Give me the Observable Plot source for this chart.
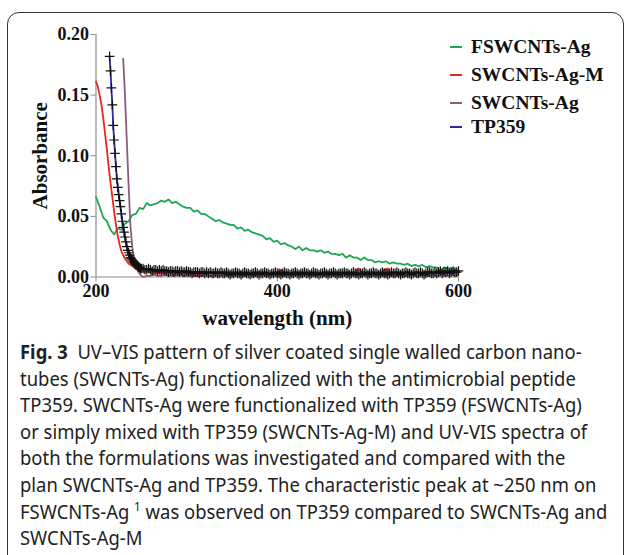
<!DOCTYPE html>
<html>
<head>
<meta charset="utf-8">
<script src="https://cdn.jsdelivr.net/npm/d3@7"></script>
<script src="https://cdn.jsdelivr.net/npm/@observablehq/plot@0.6"></script>
<style>
  html, body { margin: 0; padding: 0; background: #fff; }
  #page { position: relative; width: 627px; height: 555px; overflow: hidden; background: #fff; }
  #box { position: absolute; left: 7px; top: 12px; width: 617px; height: 560px; border: 1.2px solid #333; border-radius: 12px; box-sizing: border-box; }
  #chart { position: absolute; left: 0; top: 0; }
  #chart g[aria-label="x-axis label"] text, #chart g[aria-label="y-axis label"] text { font-size: 21px; }
  #legend { position: absolute; left: 450px; top: 0; font-family: "Liberation Serif", "Times New Roman", serif; font-weight: bold; font-size: 19.5px; color: #111; }
  .lg { position: absolute; left: 0; white-space: nowrap; height: 20px; }
  .lg .sw { position: absolute; left: 0; top: 9px; width: 12px; height: 2px; }
  .lg .tx { position: absolute; left: 21px; top: -2px; line-height: 24px; }
  #caption { position: absolute; left: 20px; top: 339px; font-family: "Noto Sans", sans-serif; font-size: 19px; line-height: 26.6px; color: #222; transform: scaleX(0.97); transform-origin: 0 0; white-space: nowrap; }
  #caption div { height: 26.6px; }
  #caption b { font-weight: bold; }
  #caption sup { font-size: 12px; line-height: 0; vertical-align: 0; position: relative; top: -8px; }
</style>
</head>
<body>
<div id="page">
  <div id="box"></div>
  <div id="chart"></div>
  <div id="legend"></div>
  <div id="caption">
    <div><b>Fig. 3</b>&nbsp; UV–VIS pattern of silver coated single walled carbon nano-</div>
    <div>tubes (SWCNTs-Ag) functionalized with the antimicrobial peptide</div>
    <div>TP359. SWCNTs-Ag were functionalized with TP359 (FSWCNTs-Ag)</div>
    <div>or simply mixed with TP359 (SWCNTs-Ag-M) and UV-VIS spectra of</div>
    <div>both the formulations was investigated and compared with the</div>
    <div>plan SWCNTs-Ag and TP359. The characteristic peak at ~250 nm on</div>
    <div>FSWCNTs-Ag <sup>1</sup> was observed on TP359 compared to SWCNTs-Ag and</div>
    <div>SWCNTs-Ag-M</div>
  </div>
</div>
<script>
// ---- axes ----
const xDomain = [200, 600];
const yDomain = [0, 0.2];
const xTicks = [200, 400, 600];
const yTicks = [0, 0.05, 0.10, 0.15, 0.20];

// ---- series names / colours ----
const seriesNames = ["FSWCNTs-Ag", "SWCNTs-Ag-M", "SWCNTs-Ag", "TP359"];
const seriesColors = ["#1fa650", "#e8271c", "#8c5c7c", "#2b2ba6"];

// FSWCNTs-Ag: 200–600 nm, every 4 nm
const fswStart = 200, fswStep = 4;
const fswValues = [
  .066,.058,.049,.046,.039,.035,.040,.039,.044,.046,
  .051,.052,.057,.056,.061,.059,.060,.061,.063,.062,
  .064,.061,.062,.060,.058,.057,.057,.054,.055,.052,
  .052,.050,.048,.046,.047,.045,.044,.043,.043,.040,
  .041,.038,.039,.037,.036,.035,.034,.031,.032,.029,
  .030,.027,.028,.026,.025,.023,.025,.022,.024,.022,
  .022,.021,.022,.020,.021,.019,.019,.018,.019,.016,
  .018,.016,.016,.014,.016,.014,.014,.012,.013,.012,
  .013,.011,.012,.011,.011,.010,.011,.009,.010,.009,
  .010,.008,.009,.008,.008,.005,.008,.007,.007,.006,
  .005
];

// SWCNTs-Ag-M: 200–250 nm every 2 nm, then 252–600 nm every 2 nm
const mixSteepStart = 200, mixStep = 2;
const mixSteep = [
  .161,.157,.150,.142,.131,.118,.105,.091,.078,.066,
  .054,.043,.034,.027,.021,.018,.015,.013,.011,.010,
  .009,.008,.007,.006,.006,.005
];
const mixBaseStart = 252;
const mixBase = [
  .005,.004,.005,.004,.004,.003,.004,.004,.003,.004,
  .003,.004,.003,.003,.004,.003,.003,.002,.003,.003,
  .003,.002,.003,.003,.002,.003,.003,.002,.002,.003,
  .003,.002,.003,.004,.003,.002,.003,.003,.004,.003,
  .002,.003,.004,.003,.003,.002,.003,.004,.003,.002,
  .003,.003,.002,.003,.004,.003,.002,.003,.003,.002,
  .003,.002,.003,.003,.002,.003,.003,.002,.003,.003,
  .002,.003,.003,.004,.003,.005,.006,.005,.003,.002,
  .003,.003,.002,.003,.004,.003,.002,.003,.003,.002,
  .003,.002,.003,.003,.002,.002,.003,.003,.002,.003,
  .003,.004,.003,.002,.003,.003,.002,.003,.004,.003,
  .002,.003,.003,.004,.003,.003,.002,.004,.006,.007,
  .005,.003,.002,.003,.003,.002,.003,.004,.003,.002,
  .003,.003,.004,.006,.006,.007,.004,.003,.002,.003,
  .003,.004,.003,.002,.003,.004,.005,.003,.002,.003,
  .003,.004,.003,.003,.002,.003,.004,.003,.005,.004,
  .003,.003,.004,.003,.002,.003,.004,.005,.003,.004,
  .003,.004,.003,.003,.004
];

// SWCNTs-Ag: 230–252 nm every 2 nm, then 256–600 nm every 4 nm
const agSteepStart = 230, agSteepStep = 2;
const agSteep = [.180,.150,.112,.075,.042,.025,.015,.009,.005,.003,.001,.000];
const agBaseStart = 256, agBaseStep = 4;
const agBase = [
  .001,.001,.002,.001,.001,.002,.001,.001,.001,.002,
  .001,.001,.002,.001,.001,.001,.002,.001,.001,.002,
  .001,.002,.001,.001,.001,.002,.001,.001,.002,.001,
  .001,.001,.002,.001,.001,.002,.001,.001,.001,.002,
  .001,.002,.001,.001,.002,.001,.001,.001,.002,.001,
  .001,.002,.001,.001,.001,.002,.001,.002,.001,.001,
  .002,.001,.001,.002,.001,.001,.001,.002,.001,.001,
  .002,.001,.001,.002,.001,.001,.002,.001,.001,.002,
  .001,.001,.002,.001,.002,.001,.002
];

// TP359: 215–250 nm every 1 nm, then 252–600 nm every 2 nm
const tpSteepStart = 215, tpSteepStep = 1;
const tpSteep = [
  .182,.170,.156,.142,.125,.113,.102,.091,.081,.074,
  .068,.063,.058,.052,.046,.041,.037,.033,.029,.025,
  .022,.020,.018,.016,.015,.014,.013,.012,.011,.010,
  .010,.009,.008,.008,.007,.007
];
const tpBaseStart = 252, tpBaseStep = 2;
const tpBase = [
  .007,.006,.006,.007,.006,.005,.006,.006,.005,.006,
  .005,.006,.005,.005,.004,.005,.005,.004,.005,.005,
  .004,.005,.004,.004,.005,.004,.004,.003,.004,.004,
  .004,.003,.004,.004,.003,.004,.003,.004,.003,.003,
  .004,.003,.003,.004,.003,.003,.004,.003,.002,.003,
  .003,.004,.003,.003,.002,.003,.004,.003,.003,.002,
  .003,.003,.004,.003,.002,.003,.003,.004,.003,.003,
  .002,.003,.003,.004,.003,.003,.002,.003,.004,.003,
  .003,.002,.003,.003,.004,.003,.002,.003,.003,.004,
  .003,.003,.002,.003,.004,.003,.003,.002,.003,.003,
  .004,.003,.002,.003,.003,.004,.003,.002,.003,.003,
  .003,.004,.003,.003,.002,.003,.004,.003,.003,.002,
  .003,.003,.004,.003,.002,.003,.003,.004,.003,.003,
  .002,.003,.004,.003,.003,.002,.003,.004,.003,.003,
  .004,.003,.002,.003,.003,.004,.003,.003,.002,.003,
  .004,.003,.003,.004,.003,.002,.003,.004,.004,.003,
  .003,.004,.003,.004,.005,.003,.004,.004,.005,.003,
  .004,.005,.004,.004,.005
];

function expand(start, step, values, series) {
  return values.map((v, i) => ({nm: start + i * step, abs: v, series}));
}

const fsw = expand(fswStart, fswStep, fswValues, seriesNames[0]);
const mix = expand(mixSteepStart, mixStep, mixSteep, seriesNames[1]).concat(expand(mixBaseStart, mixStep, mixBase, seriesNames[1]));
const ag = expand(agSteepStart, agSteepStep, agSteep, seriesNames[2]).concat(expand(agBaseStart, agBaseStep, agBase, seriesNames[2]));
const tp = expand(tpSteepStart, tpSteepStep, tpSteep, seriesNames[3]).concat(expand(tpBaseStart, tpBaseStep, tpBase, seriesNames[3]));

const axisColor = "#8c8c8c";
const serif = "'Liberation Serif', 'Times New Roman', serif";

const chart = Plot.plot({
  width: 627,
  height: 335,
  marginLeft: 95.5,
  marginRight: 169,
  marginTop: 34,
  marginBottom: 58.5,
  x: {domain: xDomain},
  y: {domain: yDomain},
  color: {domain: seriesNames, range: seriesColors},
  style: {fontFamily: serif, fontWeight: "bold", fontSize: "18px", background: "transparent", color: "#111", overflow: "visible"},
  marks: [
    Plot.ruleY([yDomain[0]], {stroke: axisColor, strokeWidth: 1.2}),
    Plot.ruleX([xDomain[0]], {stroke: axisColor, strokeWidth: 1.2}),
    Plot.axisX({ticks: xTicks, tickSize: 5, tickPadding: 2, stroke: axisColor, fill: "#111", fontSize: 18, fontWeight: "bold",
      label: "wavelength (nm)", labelArrow: "none", labelAnchor: "center", labelOffset: 48}),
    Plot.axisY({ticks: yTicks, tickSize: 5, tickPadding: 2, stroke: axisColor, fill: "#111", fontSize: 18, fontWeight: "bold",
      tickFormat: d3.format(".2f"), label: "Absorbance", labelArrow: "none", labelAnchor: "center", labelOffset: 64}),
    Plot.line(fsw, {x: "nm", y: "abs", stroke: "series", strokeWidth: 1.8}),
    Plot.line(mix, {x: "nm", y: "abs", stroke: "series", strokeWidth: 1.8}),
    Plot.line(ag, {x: "nm", y: "abs", stroke: "series", strokeWidth: 1.8}),
    Plot.line(tp, {x: "nm", y: "abs", stroke: "series", strokeWidth: 1.8}),
    Plot.dot(tp, {x: "nm", y: "abs", symbol: "plus", r: 3.2, stroke: "#111", strokeWidth: 1.2})
  ]
});
document.getElementById("chart").appendChild(chart);

// legend
const legendTops = [37, 65, 93, 117];
const legend = document.getElementById("legend");
seriesNames.forEach((name, i) => {
  const row = document.createElement("div");
  row.className = "lg";
  row.style.top = legendTops[i] + "px";
  const sw = document.createElement("div");
  sw.className = "sw";
  sw.style.background = seriesColors[i];
  const tx = document.createElement("div");
  tx.className = "tx";
  tx.textContent = name;
  row.appendChild(sw);
  row.appendChild(tx);
  legend.appendChild(row);
});
</script>
</body>
</html>
